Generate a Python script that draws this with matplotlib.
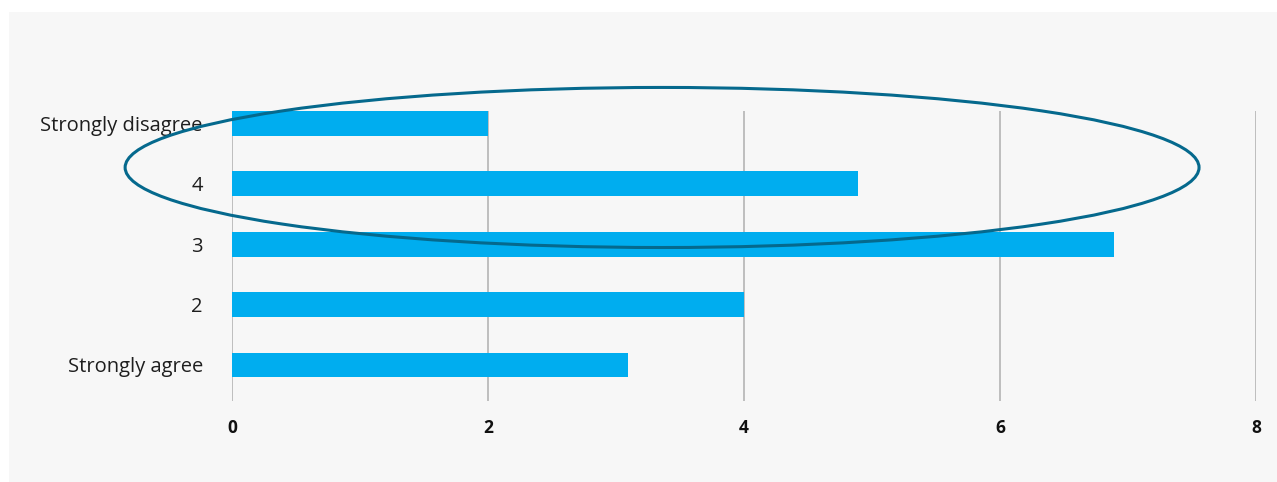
import matplotlib.pyplot as plt
from matplotlib.patches import Ellipse, Rectangle

categories = ['Strongly agree', '2', '3', '4', 'Strongly disagree']
values = [3.09, 4.0, 6.89, 4.89, 2.0]
xticks = [0, 2, 4, 6, 8]

W, H = 1277, 482
fig = plt.figure(figsize=(W / 100, H / 100), dpi=100)
fig.patch.set_facecolor('white')
# light grey panel behind the chart
fig.patches.append(Rectangle((9 / W, 0), 1 - 9 / W, 1 - 12 / H, transform=fig.transFigure,
                             facecolor='#f7f7f7', edgecolor='none', zorder=-10))

ax = fig.add_axes([232 / W, 1 - 401 / H, 1024 / W, 290 / H])
ax.set_facecolor('none')

ypos = list(range(len(categories)))
ax.barh(ypos, values, height=0.41, color='#00adef', zorder=2)

ax.set_xlim(0, 8)
ax.set_ylim(-0.596, 4.205)
ax.set_xticks(xticks)
ax.set_xticklabels([str(t) for t in xticks], fontfamily='Open Sans', fontweight='bold',
                   fontsize=12.5, color='#111111')
ax.set_yticks(ypos)
ax.set_yticklabels(categories, fontfamily='Open Sans', fontsize=14.5, color='#1e1e1e')
ax.tick_params(axis='x', length=0, pad=13)
ax.tick_params(axis='y', length=0, pad=21)
ax.grid(axis='x', color='#b4b4b4', linewidth=1.2, zorder=1)
for s in ax.spines.values():
    s.set_visible(False)

# highlight ellipse around the top rows
ell = Ellipse((3.36, 3.27), 8.39, 2.65, fill=False, edgecolor='#05698d', linewidth=2.2,
              clip_on=False, zorder=5)
ax.add_patch(ell)

fig.savefig('out.png', dpi=100, facecolor=fig.get_facecolor())
